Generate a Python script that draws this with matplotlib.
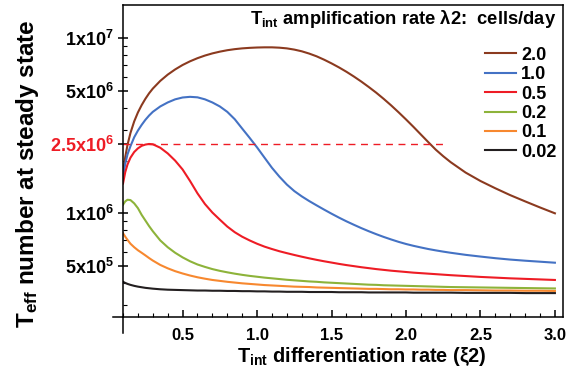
import matplotlib
matplotlib.use("Agg")
import matplotlib.pyplot as plt
from matplotlib.ticker import FixedLocator, FixedFormatter, LogLocator, NullFormatter, MultipleLocator

plt.rcParams['font.family'] = ['Liberation Sans', 'DejaVu Sans']
plt.rcParams['font.weight'] = 'bold'
plt.rcParams['mathtext.fontset'] = 'custom'
plt.rcParams['mathtext.rm'] = 'Liberation Sans:bold'
plt.rcParams['mathtext.bf'] = 'Liberation Sans:bold'
plt.rcParams['mathtext.it'] = 'Liberation Sans:bold'

# differentiation rate xi2
xi2 = [0.1, 0.115, 0.13, 0.15, 0.175, 0.2, 0.225, 0.25, 0.275, 0.3,
       0.35, 0.4, 0.45, 0.5, 0.55, 0.6, 0.65, 0.7, 0.75, 0.8, 0.85, 0.9, 0.95, 1.0,
       1.05, 1.1, 1.15, 1.2, 1.25, 1.3, 1.35, 1.4, 1.45, 1.5, 1.55, 1.6, 1.65, 1.7,
       1.75, 1.8, 1.85, 1.9, 1.95, 2.0, 2.05, 2.1, 2.15, 2.2, 2.25, 2.3,
       2.4, 2.5, 2.6, 2.7, 2.8, 2.9, 3.0]

# steady state T_eff numbers, in millions, one list per amplification rate
lam_2_0 = [1.69, 2.1, 2.46, 2.88, 3.35, 3.77, 4.15, 4.51, 4.85, 5.16,
           5.71, 6.2, 6.64, 7.04, 7.39, 7.7, 7.97, 8.2, 8.39, 8.55, 8.67, 8.76, 8.82, 8.86,
           8.88, 8.88, 8.84, 8.76, 8.62, 8.43, 8.18, 7.89, 7.55, 7.19, 6.82, 6.44, 6.05, 5.66,
           5.27, 4.89, 4.51, 4.14, 3.78, 3.44, 3.12, 2.82, 2.55, 2.31, 2.12, 1.96,
           1.71, 1.53, 1.39, 1.27, 1.17, 1.08, 1.0]
lam_1_0 = [1.62, 1.92, 2.17, 2.42, 2.72, 2.97, 3.2, 3.42, 3.62, 3.8,
           4.08, 4.3, 4.48, 4.59, 4.63, 4.6, 4.48, 4.3, 4.08, 3.8, 3.45, 3.05, 2.7, 2.38,
           2.08, 1.82, 1.62, 1.46, 1.34, 1.25, 1.175, 1.11, 1.05, 0.995, 0.945, 0.9, 0.86, 0.823,
           0.79, 0.76, 0.733, 0.709, 0.687, 0.668, 0.652, 0.638, 0.625, 0.614, 0.604, 0.595,
           0.579, 0.566, 0.554, 0.544, 0.536, 0.529, 0.522]
lam_0_5 = [1.48, 1.72, 1.9, 2.08, 2.24, 2.35, 2.43, 2.47, 2.49, 2.48,
           2.37, 2.2, 2.0, 1.78, 1.53, 1.3, 1.13, 1.01, 0.92, 0.84, 0.78, 0.735, 0.7, 0.67,
           0.645, 0.625, 0.607, 0.592, 0.578, 0.565, 0.553, 0.542, 0.532, 0.523, 0.514, 0.506, 0.499, 0.492,
           0.486, 0.48, 0.475, 0.47, 0.466, 0.462, 0.458, 0.455, 0.452, 0.449, 0.446, 0.443,
           0.438, 0.433, 0.429, 0.425, 0.422, 0.419, 0.416]
lam_0_2 = [1.12, 1.17, 1.195, 1.19, 1.14, 1.07, 0.98, 0.91, 0.845, 0.79,
           0.7, 0.64, 0.595, 0.56, 0.532, 0.51, 0.494, 0.48, 0.469, 0.46, 0.452, 0.445, 0.439, 0.434,
           0.429, 0.425, 0.421, 0.417, 0.414, 0.411, 0.408, 0.406, 0.403, 0.401, 0.399, 0.397, 0.395, 0.393,
           0.391, 0.39, 0.388, 0.387, 0.386, 0.385, 0.384, 0.383, 0.382, 0.381, 0.38, 0.379,
           0.378, 0.377, 0.376, 0.375, 0.374, 0.373, 0.372]
lam_0_1 = [0.77, 0.735, 0.705, 0.67, 0.64, 0.615, 0.595, 0.575, 0.555, 0.537,
           0.507, 0.485, 0.467, 0.453, 0.441, 0.431, 0.423, 0.416, 0.411, 0.406, 0.402, 0.398, 0.395, 0.392,
           0.389, 0.387, 0.385, 0.383, 0.381, 0.38, 0.379, 0.377, 0.376, 0.375, 0.374, 0.373, 0.372, 0.371,
           0.37, 0.37, 0.369, 0.368, 0.368, 0.367, 0.367, 0.366, 0.366, 0.365, 0.365, 0.364,
           0.364, 0.363, 0.362, 0.362, 0.361, 0.361, 0.36]
lam_0_02 = [0.406, 0.4, 0.395, 0.39, 0.385, 0.381, 0.378, 0.375, 0.373, 0.371,
            0.368, 0.366, 0.365, 0.364, 0.363, 0.362, 0.362, 0.361, 0.361, 0.36, 0.36, 0.359, 0.359, 0.358,
            0.358, 0.357, 0.357, 0.356, 0.356, 0.356, 0.355, 0.355, 0.355, 0.355, 0.354, 0.354, 0.354, 0.354,
            0.353, 0.353, 0.353, 0.353, 0.353, 0.353, 0.352, 0.352, 0.352, 0.352, 0.352, 0.352,
            0.351, 0.351, 0.351, 0.351, 0.35, 0.35, 0.35]

labels = ['2.0', '1.0', '0.5', '0.2', '0.1', '0.02']
colors = ['#8b3a1f', '#4472c4', '#ee1c25', '#8db33a', '#f7882f', '#231f20']
series = [lam_2_0, lam_1_0, lam_0_5, lam_0_2, lam_0_1, lam_0_02]

threshold = 2.5e6
y_ticks = [5e5, 1e6, 2.5e6, 5e6, 1e7]
y_ticklabels = [r'$\mathbf{5x10^5}$', r'$\mathbf{1x10^6}$', r'$\mathbf{2.5x10^6}$',
                r'$\mathbf{5x10^6}$', r'$\mathbf{1x10^7}$']

fig = plt.figure(figsize=(5.85, 3.85), dpi=100)
ax = fig.add_axes([0.2103, 0.1766, 0.752, 0.8104])

for vals, c, lab in zip(series, colors, labels):
    ax.plot(xi2, [v * 1e6 for v in vals], color=c, lw=1.5, label=lab)

ax.plot([0.1, 2.25], [threshold, threshold], color='#ee1c25', lw=1.0, ls=(0, (5, 4)))

ax.set_yscale('log')
ax.set_xlim(0.1, 3.054)
ax.set_ylim(2.555e5, 1.55e7)

ax.yaxis.set_major_locator(FixedLocator(y_ticks))
ax.yaxis.set_major_formatter(FixedFormatter(y_ticklabels))
ax.yaxis.set_minor_locator(LogLocator(base=10, subs=range(2, 10)))
ax.yaxis.set_minor_formatter(NullFormatter())
ax.xaxis.set_major_locator(FixedLocator([0.5, 1.0, 1.5, 2.0, 2.5, 3.0]))
ax.xaxis.set_major_formatter(FixedFormatter(['0.5', '1.0', '1.5', '2.0', '2.5', '3.0']))
ax.xaxis.set_minor_locator(MultipleLocator(0.1))

ax.tick_params(axis='y', which='major', direction='inout', length=7, width=1.1, labelsize=13, pad=3)
ax.tick_params(axis='y', which='minor', direction='in', length=3, width=0.8)
ax.tick_params(axis='x', which='major', direction='in', length=5, width=1.1, labelsize=12, pad=8)
ax.tick_params(axis='x', which='minor', direction='in', length=3, width=0.8)
ax.get_yticklabels()[2].set_color('#ee1c25')

for s in ax.spines.values():
    s.set_linewidth(1.1)
# axis lines run past the lower-left corner
ax.plot([0, 0], [0, -0.052], transform=ax.transAxes, color='black', lw=1.1, clip_on=False)
ax.plot([0, -0.023], [0, 0], transform=ax.transAxes, color='black', lw=1.1, clip_on=False)

ax.text(0.986, 0.955, r'T$_{\mathbf{int}}$ amplification rate λ2:  cells/day', transform=ax.transAxes,
        ha='right', va='center', fontsize=13.2, fontweight='bold')
ax.legend(loc='upper left', bbox_to_anchor=(0.823, 0.866), frameon=False, fontsize=13,
          handlelength=1.7, handletextpad=0.3, labelspacing=0.13, borderpad=0, borderaxespad=0)

fig.text(28 / 585, 0.548, r'T$_{\mathbf{eff}}$ number at steady state', rotation=90,
         ha='center', va='center', fontsize=17.5, fontweight='bold')
fig.text(362 / 585, 0.073, r'T$_{\mathbf{int}}$ differentiation rate (ξ2)',
         ha='center', va='center', fontsize=14.3, fontweight='bold')

fig.savefig('out.png', dpi=100)
